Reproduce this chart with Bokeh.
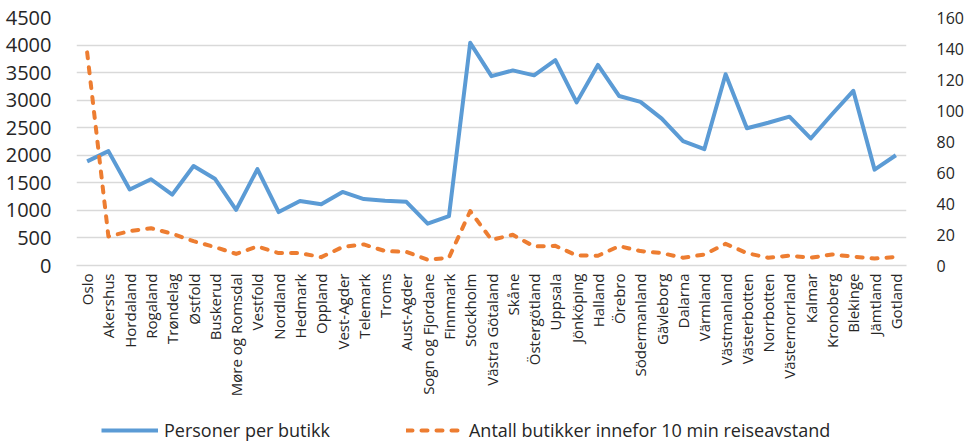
from bokeh.plotting import figure
from bokeh.layouts import column
from bokeh.models import LinearAxis, Range1d, FactorRange, Legend, LegendItem, SingleIntervalTicker, ColumnDataSource
from bokeh.embed import file_html
from bokeh.resources import INLINE
import math

regions = ["Oslo", "Akershus", "Hordaland", "Rogaland", "Trøndelag", "Østfold", "Buskerud",
           "Møre og Romsdal", "Vestfold", "Nordland", "Hedmark", "Oppland", "Vest-Agder",
           "Telemark", "Troms", "Aust-Agder", "Sogn og Fjordane", "Finnmark",
           "Stockholm", "Västra Götaland", "Skåne", "Östergötland", "Uppsala", "Jönköping",
           "Halland", "Örebro", "Södermanland", "Gävleborg", "Dalarna", "Värmland",
           "Västmanland", "Västerbotten", "Norrbotten", "Västernorrland", "Kalmar",
           "Kronoberg", "Blekinge", "Jämtland", "Gotland"]

personer_per_butikk = [1890, 2075, 1380, 1565, 1285, 1805, 1575, 1010, 1750, 970, 1170, 1110,
                       1335, 1205, 1175, 1155, 760, 895,
                       4040, 3435, 3540, 3450, 3725, 2960, 3640, 3075, 2970, 2665, 2255,
                       2110, 3470, 2490, 2590, 2700, 2305, 2745, 3170, 1740, 2000]

antall_butikker = [137.5, 18.7, 22.2, 24.1, 20.5, 15.7, 11.9, 7.5, 12.3, 8.0, 8.0, 5.4,
                   11.9, 13.6, 9.3, 8.8, 3.7, 5.0,
                   35.1, 16.6, 19.8, 12.3, 12.7, 6.5, 6.3, 12.5, 9.3, 8.0, 5.0, 7.1,
                   14.0, 8.0, 5.0, 6.3, 5.0, 7.1, 5.7, 4.5, 5.5]

series_names = ["Personer per butikk", "Antall butikker innefor 10 min reiseavstand"]

FONT = "Open Sans"
TXT = "#262626"
BLUE = "#5B9BD5"
ORANGE = "#ED7D31"
DASH = "6 9"

src = ColumnDataSource(dict(x=regions, a=personer_per_butikk, b=antall_butikker))

p = figure(width=966, height=416, output_backend="svg", toolbar_location=None,
           x_range=FactorRange(*regions, range_padding=0),
           y_range=Range1d(0, 4500),
           min_border_left=76, min_border_right=59, min_border_top=17, min_border_bottom=151)
p.outline_line_color = None
p.extra_y_ranges = {"r": Range1d(0, 160)}

p.xgrid.grid_line_color = None
p.ygrid.grid_line_color = "#D9D9D9"
p.ygrid.grid_line_width = 1.5

yax = p.yaxis[0]
yax.ticker = SingleIntervalTicker(interval=500)
yax.axis_line_color = None
yax.major_tick_line_color = None
yax.minor_tick_line_color = None
yax.major_tick_out = 0
yax.major_tick_in = 0
yax.major_label_text_font = FONT
yax.major_label_text_font_size = "20px"
yax.major_label_text_color = TXT
yax.major_label_standoff = 21

rax = LinearAxis(y_range_name="r", ticker=SingleIntervalTicker(interval=20))
rax.axis_line_color = None
rax.major_tick_line_color = None
rax.minor_tick_line_color = None
rax.major_tick_out = 0
rax.major_tick_in = 0
rax.major_label_text_font = FONT
rax.major_label_text_font_size = "16px"
rax.major_label_text_color = TXT
rax.major_label_standoff = 26
p.add_layout(rax, "right")

xax = p.xaxis[0]
xax.axis_line_color = "#D9D9D9"
xax.axis_line_width = 1.5
xax.major_tick_line_color = None
xax.minor_tick_line_color = None
xax.major_tick_out = 0
xax.major_tick_in = 0
xax.major_label_orientation = math.pi / 2
xax.major_label_text_font = FONT
xax.major_label_text_font_size = "15px"
xax.major_label_text_color = TXT
xax.major_label_standoff = 8

p.line("x", "a", source=src, line_color=BLUE, line_width=4, line_join="round")
p.line("x", "b", source=src, y_range_name="r", line_color=ORANGE, line_width=4,
       line_dash=DASH, line_cap="round", line_join="round")

# legend strip (same series, drawn out of view so only the legend shows)
lg = figure(width=966, height=26, output_backend="svg", toolbar_location=None,
            x_axis_type=None, y_axis_type=None,
            x_range=FactorRange(*regions, range_padding=0), y_range=Range1d(-20000, -19000),
            min_border_left=76, min_border_right=59, min_border_top=0, min_border_bottom=0)
lg.outline_line_color = None
lg.grid.grid_line_color = None
k1 = lg.line("x", "a", source=src, line_color=BLUE, line_width=4)
k2 = lg.line("x", "b", source=src, line_color=ORANGE, line_width=4, line_dash=DASH, line_cap="round")

legend = Legend(items=[LegendItem(label=series_names[0], renderers=[k1]),
                       LegendItem(label=series_names[1], renderers=[k2])],
                orientation="horizontal", location=(25, 0),
                label_text_font=FONT, label_text_font_size="18px", label_text_color=TXT,
                glyph_width=57, glyph_height=20, label_standoff=6, spacing=76,
                padding=0, margin=0, background_fill_alpha=0, border_line_color=None)
lg.add_layout(legend, "center")

open("out.html", "w").write(file_html(column(p, lg, spacing=0), INLINE))
